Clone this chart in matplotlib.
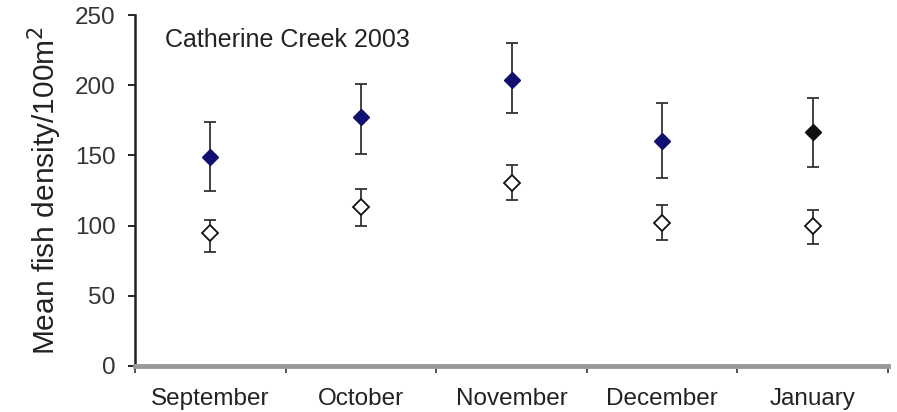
import numpy as np
import matplotlib
matplotlib.use("Agg")
import matplotlib.pyplot as plt

months = ["September", "October", "November", "December", "January"]

filled_mean = [149, 177, 204, 160, 167]
filled_low = [125, 151, 180, 134, 142]
filled_high = [174, 201, 230, 187, 191]

open_mean = [95, 113, 130, 102, 100]
open_low = [81, 100, 118, 90, 87]
open_high = [104, 126, 143, 115, 111]

filled_colors = ["#101070", "#101070", "#101070", "#101070", "#111111"]

plt.rcParams["font.family"] = ["Liberation Sans", "DejaVu Sans"]

fig = plt.figure(figsize=(8.97, 4.12), dpi=100)
ax = fig.add_axes([135 / 897, 1 - 366 / 412, (888 - 135) / 897, (366 - 15) / 412])

x = np.arange(1, len(months) + 1)

f_mean = np.array(filled_mean)
f_err = [f_mean - np.array(filled_low), np.array(filled_high) - f_mean]
o_mean = np.array(open_mean)
o_err = [o_mean - np.array(open_low), np.array(open_high) - o_mean]

# filled series (blue, last one black)
ax.errorbar(x, f_mean, yerr=f_err, fmt="none", ecolor="#333333",
            elinewidth=1.3, capsize=4, capthick=1.3, zorder=2)
for xi, yi, c in zip(x, f_mean, filled_colors):
    ax.plot(xi, yi, marker="D", markersize=8, color=c, linestyle="none", zorder=3)

# open series
ax.errorbar(x, o_mean, yerr=o_err, fmt="none", ecolor="#333333",
            elinewidth=1.3, capsize=4, capthick=1.3, zorder=2)
ax.plot(x, o_mean, marker="D", markersize=8, markerfacecolor="white",
        markeredgecolor="#111111", markeredgewidth=1.3, linestyle="none", zorder=3)

ax.set_xlim(0.5, len(months) + 0.5)
ax.set_ylim(0, 250)
ax.set_yticks([0, 50, 100, 150, 200, 250])
ax.set_xticks(x)
ax.set_xticklabels(months, fontsize=17.5, color="#222222")
ax.set_xticks(np.arange(0.5, len(months) + 1, 1), minor=True)
ax.tick_params(axis="x", which="major", length=0, pad=16)
ax.tick_params(axis="x", which="minor", length=5, width=1.2, direction="out", color="#333333")
ax.tick_params(axis="y", length=5, width=1.2, labelsize=17.5, labelcolor="#333333", pad=9)

ax.spines["top"].set_visible(False)
ax.spines["right"].set_visible(False)
ax.spines["left"].set_linewidth(1.8)
ax.spines["left"].set_color("#222222")
ax.spines["bottom"].set_linewidth(3.5)
ax.spines["bottom"].set_color("#999999")

ax.set_ylabel("Mean fish density/100m$^2$", fontsize=21.5, color="#222222", labelpad=8)
ax.text(0.04, 0.93, "Catherine Creek 2003", transform=ax.transAxes,
        fontsize=18, color="#222222", va="center", ha="left")

fig.savefig("out.png", dpi=100)
